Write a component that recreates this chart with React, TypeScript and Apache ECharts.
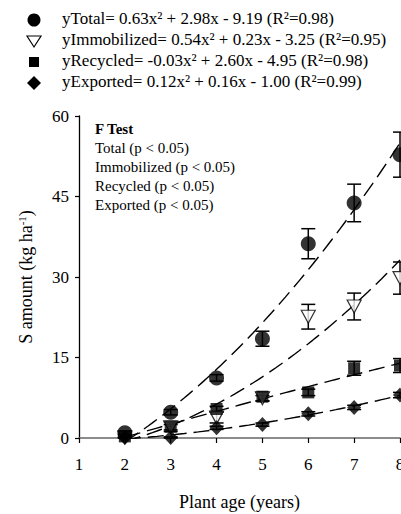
import React, { useEffect, useRef } from "react";
import * as echarts from "echarts";

const ages = [2, 3, 4, 5, 6, 7, 8];
const totalMean = [1.0, 4.8, 11.2, 18.5, 36.2, 43.8, 52.8];
const totalErr = [0.3, 0.5, 0.6, 1.4, 2.8, 3.5, 4.2];
const immobMean = [0.1, 2.0, 3.8, 7.4, 22.6, 24.5, 29.8];
const immobErr = [0.1, 0.5, 1.0, 0.5, 2.3, 2.5, 3.0];
const recycMean = [0.3, 2.1, 5.4, 7.7, 8.5, 13.0, 13.5];
const recycErr = [0.2, 0.9, 0.5, 0.8, 0.6, 1.3, 1.3];
const exportMean = [0.1, 0.1, 1.9, 2.5, 4.5, 5.7, 8.0];
const exportErr = [0.05, 0.1, 0.3, 0.3, 0.4, 0.4, 0.5];

// regression coefficients [a, b, c] for y = a x^2 + b x + c
const fitTotal = [0.63, 2.98, -9.19];
const fitImmob = [0.54, 0.23, -3.25];
const fitRecyc = [-0.03, 2.6, -4.95];
const fitExport = [0.12, 0.16, -1.0];
const fitRange = [2, 8];

const legendTexts = [
  "yTotal= 0.63x² + 2.98x - 9.19 (R²=0.98)",
  "yImmobilized= 0.54x² + 0.23x - 3.25 (R²=0.95)",
  "yRecycled= -0.03x² + 2.60x - 4.95 (R²=0.98)",
  "yExported= 0.12x² + 0.16x - 1.00 (R²=0.99)",
];
const fTestTitle = "F Test";
const fTestLines = [
  "Total (p < 0.05)",
  "Immobilized (p < 0.05)",
  "Recycled (p < 0.05)",
  "Exported (p < 0.05)",
];

const FONT = "Liberation Serif";
const TRI = "path://M0,0L12,0L6,11Z";

function fitCurve(coef: number[]) {
  const out: number[][] = [];
  const n = 60;
  for (let i = 0; i <= n; i++) {
    const x = fitRange[0] + ((fitRange[1] - fitRange[0]) * i) / n;
    out.push([x, coef[0] * x * x + coef[1] * x + coef[2]]);
  }
  return out;
}

function errData(mean: number[], err: number[]) {
  return ages.map((a, i) => [a, mean[i], err[i]]);
}

function pts(mean: number[]) {
  return ages.map((a, i) => [a, mean[i]]);
}

const errRender = (params: any, api: any) => {
  const x = api.value(0);
  const y = api.value(1);
  const e = api.value(2);
  const top = api.coord([x, y + e]);
  const bot = api.coord([x, y - e]);
  const w = 7;
  const style = { stroke: "#000", lineWidth: 1.5 };
  return {
    type: "group",
    children: [
      { type: "line", shape: { x1: top[0], y1: top[1], x2: bot[0], y2: bot[1] }, style },
      { type: "line", shape: { x1: top[0] - w, y1: top[1], x2: top[0] + w, y2: top[1] }, style },
      { type: "line", shape: { x1: bot[0] - w, y1: bot[1], x2: bot[0] + w, y2: bot[1] }, style },
    ],
  };
};

export default function App() {
  const ref = useRef<HTMLDivElement>(null);
  useEffect(() => {
    if (!ref.current) return;
    const chart = echarts.init(ref.current, null, { renderer: "svg" });
    const lineStyle = { color: "#000", width: 1.4, type: [16, 7] as any };
    const fits = [fitTotal, fitImmob, fitRecyc, fitExport].map((c) => ({
      type: "line",
      data: fitCurve(c),
      showSymbol: false,
      symbol: "none",
      lineStyle,
      silent: true,
      z: 2,
    }));
    const errs = [
      errData(totalMean, totalErr),
      errData(immobMean, immobErr),
      errData(recycMean, recycErr),
      errData(exportMean, exportErr),
    ].map((d) => ({
      type: "custom",
      renderItem: errRender,
      data: d,
      silent: true,
      z: 3,
    }));

    const legendY = [20, 41, 62, 83];
    const g: any[] = [];
    legendTexts.forEach((t, i) => {
      g.push({
        type: "text",
        left: 62,
        top: legendY[i] - 10,
        style: { text: t, fontFamily: FONT, fontSize: 17, fill: "#000" },
      });
    });
    g.push({ type: "circle", shape: { cx: 34, cy: legendY[0], r: 6.5 }, style: { fill: "#000" } });
    g.push({
      type: "polygon",
      shape: { points: [[27, legendY[1] - 5], [41, legendY[1] - 5], [34, legendY[1] + 6]] },
      style: { fill: "#fff", stroke: "#000", lineWidth: 1.2 },
    });
    g.push({ type: "rect", shape: { x: 29, y: legendY[2] - 5, width: 10, height: 10 }, style: { fill: "#000" } });
    g.push({
      type: "polygon",
      shape: { points: [[34, legendY[3] - 7], [41, legendY[3]], [34, legendY[3] + 7], [27, legendY[3]]] },
      style: { fill: "#000" },
    });
    g.push({
      type: "text",
      left: 95,
      top: 121,
      style: { text: fTestTitle, fontFamily: FONT, fontWeight: "bold", fontSize: 15, fill: "#000" },
    });
    fTestLines.forEach((t, i) => {
      g.push({
        type: "text",
        left: 95,
        top: 140 + i * 19,
        style: { text: t, fontFamily: FONT, fontSize: 15, fill: "#000" },
      });
    });

    chart.setOption({
      animation: false,
      backgroundColor: "#fff",
      textStyle: { fontFamily: FONT },
      grid: { left: 79, right: 1, top: 116, bottom: 76, containLabel: false, outerBoundsMode: "none" },
      xAxis: {
        type: "value",
        min: 1,
        max: 8,
        interval: 1,
        name: "Plant age (years)",
        nameLocation: "middle",
        nameGap: 55,
        nameTextStyle: { fontFamily: FONT, fontSize: 18, color: "#000" },
        axisLine: { show: true, onZero: false, lineStyle: { color: "#666", width: 1.5 } },
        axisTick: { show: true, inside: false, length: 5, lineStyle: { color: "#000", width: 1.2 } },
        axisLabel: { fontFamily: FONT, fontSize: 17, color: "#000", margin: 18, hideOverlap: false },
        splitLine: { show: false },
      },
      yAxis: {
        type: "value",
        min: 0,
        max: 60,
        interval: 15,
        name: "S amount (kg ha{sup|-1})",
        nameLocation: "middle",
        nameGap: 44,
        nameTextStyle: {
          fontFamily: FONT,
          fontSize: 18,
          color: "#000",
          rich: {
            sup: { fontFamily: FONT, fontSize: 11, color: "#000", verticalAlign: "top", padding: [0, 0, 8, 0] },
          },
        },
        axisLine: { show: true, lineStyle: { color: "#000", width: 1.3 } },
        axisTick: { show: true, inside: false, length: 4, lineStyle: { color: "#000", width: 1.2 } },
        axisLabel: { fontFamily: FONT, fontSize: 17, color: "#000", margin: 10 },
        splitLine: { show: false },
      },
      graphic: g,
      series: [
        ...fits,
        ...errs,
        {
          type: "scatter",
          data: pts(immobMean),
          symbol: TRI,
          symbolSize: [14, 13],
          itemStyle: { color: "#fff", borderColor: "#000", borderWidth: 1.2 },
          z: 4,
        },
        {
          type: "scatter",
          data: pts(recycMean),
          symbol: "rect",
          symbolSize: 12,
          itemStyle: { color: "#000" },
          z: 5,
        },
        {
          type: "scatter",
          data: pts(exportMean),
          symbol: "diamond",
          symbolSize: [14, 15],
          itemStyle: { color: "#000" },
          z: 6,
        },
        {
          type: "scatter",
          data: pts(totalMean),
          symbol: "circle",
          symbolSize: 15,
          itemStyle: { color: "#000" },
          z: 7,
        },
      ],
    });
    return () => chart.dispose();
  }, []);
  return (
    <div
      ref={ref}
      style={{ position: "absolute", left: 0, top: 0, width: 401, height: 514, background: "#fff" }}
    />
  );
}
